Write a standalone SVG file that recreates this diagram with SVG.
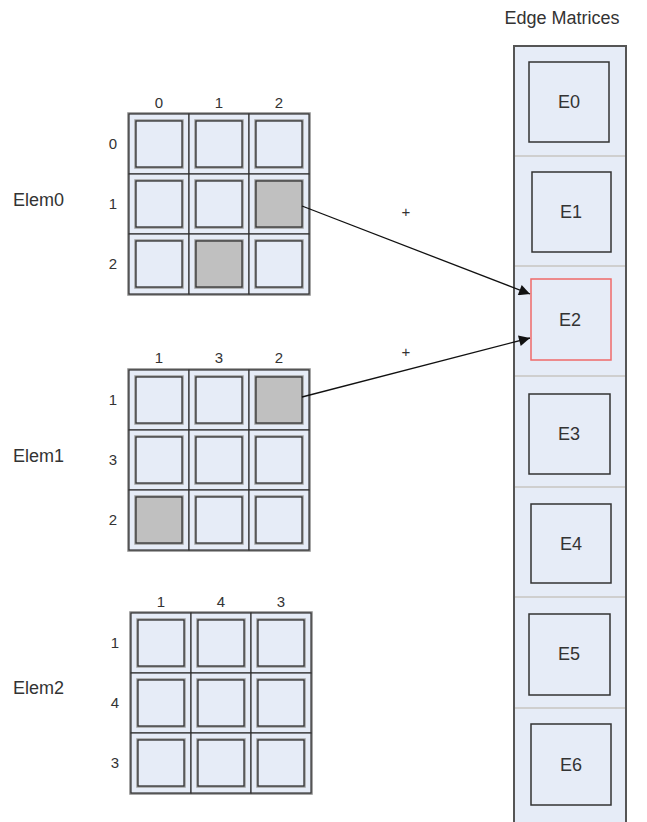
<svg xmlns="http://www.w3.org/2000/svg" width="647" height="822" viewBox="0 0 647 822">
<defs>
<style>
text{font-family:"Liberation Sans",Arial,sans-serif;fill:#333}
.lbl{font-size:18px}
.num{font-size:15px;text-anchor:middle}
.el{font-size:18px;text-anchor:middle}
.cell{fill:#e6ecf7;stroke:#333;stroke-width:1.2}
.frame{fill:none;stroke:#8a8a8a;stroke-width:3.5}
.halo{fill:none;stroke:#a0a0a0;stroke-width:3.5}
.in{fill:#e6ecf7;stroke:#333;stroke-width:1.3}
.g{fill:#c0c0c0}
.col{fill:#e6ecf7;stroke:#555;stroke-width:2}
.sep{stroke:#cfcfcf;stroke-width:2}
.eb{fill:#e6ecf7;stroke:#333;stroke-width:1.5}
.red{stroke:#f06a6a}
.conn{stroke:#111;stroke-width:1.3;fill:none;marker-end:url(#ah)}
</style>
<marker id="ah" viewBox="0 0 10 10" refX="10" refY="5" markerWidth="16" markerHeight="11" markerUnits="userSpaceOnUse" orient="auto">
<path d="M0,0 L10,5 L0,10 z" fill="#111"/>
</marker>
<g id="grid">
<rect class="frame" x="0" y="0" width="180" height="180"/>
<rect class="cell" x="0" y="0" width="60" height="60"/><rect class="cell" x="60" y="0" width="60" height="60"/><rect class="cell" x="120" y="0" width="60" height="60"/>
<rect class="cell" x="0" y="60" width="60" height="60"/><rect class="cell" x="60" y="60" width="60" height="60"/><rect class="cell" x="120" y="60" width="60" height="60"/>
<rect class="cell" x="0" y="120" width="60" height="60"/><rect class="cell" x="60" y="120" width="60" height="60"/><rect class="cell" x="120" y="120" width="60" height="60"/>
<g class="halo">
<rect x="7" y="7" width="46" height="46"/><rect x="67" y="7" width="46" height="46"/><rect x="127" y="7" width="46" height="46"/>
<rect x="7" y="67" width="46" height="46"/><rect x="67" y="67" width="46" height="46"/><rect x="127" y="67" width="46" height="46"/>
<rect x="7" y="127" width="46" height="46"/><rect x="67" y="127" width="46" height="46"/><rect x="127" y="127" width="46" height="46"/>
</g>
</g>
</defs>

<g id="elem0">
<text class="lbl" x="13" y="206">Elem0</text>
<use href="#grid" x="129" y="114"/>
<g class="in">
<rect x="136" y="121" width="46" height="46"/><rect x="196" y="121" width="46" height="46"/><rect x="256" y="121" width="46" height="46"/>
<rect x="136" y="181" width="46" height="46"/><rect x="196" y="181" width="46" height="46"/><rect class="g" x="256" y="181" width="46" height="46"/>
<rect x="136" y="241" width="46" height="46"/><rect class="g" x="196" y="241" width="46" height="46"/><rect x="256" y="241" width="46" height="46"/>
</g>
<text class="num" x="159" y="108">0</text><text class="num" x="219" y="108">1</text><text class="num" x="279" y="108">2</text>
<text class="num" x="113" y="149">0</text><text class="num" x="113" y="209">1</text><text class="num" x="113" y="269">2</text>
</g>

<g id="elem1">
<text class="lbl" x="13" y="462">Elem1</text>
<use href="#grid" x="129" y="370"/>
<g class="in">
<rect x="136" y="377" width="46" height="46"/><rect x="196" y="377" width="46" height="46"/><rect class="g" x="256" y="377" width="46" height="46"/>
<rect x="136" y="437" width="46" height="46"/><rect x="196" y="437" width="46" height="46"/><rect x="256" y="437" width="46" height="46"/>
<rect class="g" x="136" y="497" width="46" height="46"/><rect x="196" y="497" width="46" height="46"/><rect x="256" y="497" width="46" height="46"/>
</g>
<text class="num" x="159" y="363">1</text><text class="num" x="219" y="363">3</text><text class="num" x="279" y="363">2</text>
<text class="num" x="113" y="405">1</text><text class="num" x="113" y="465">3</text><text class="num" x="113" y="525">2</text>
</g>

<g id="elem2">
<text class="lbl" x="13" y="694">Elem2</text>
<use href="#grid" x="131" y="613"/>
<g class="in">
<rect x="138" y="620" width="46" height="46"/><rect x="198" y="620" width="46" height="46"/><rect x="258" y="620" width="46" height="46"/>
<rect x="138" y="680" width="46" height="46"/><rect x="198" y="680" width="46" height="46"/><rect x="258" y="680" width="46" height="46"/>
<rect x="138" y="740" width="46" height="46"/><rect x="198" y="740" width="46" height="46"/><rect x="258" y="740" width="46" height="46"/>
</g>
<text class="num" x="161" y="607">1</text><text class="num" x="221" y="607">4</text><text class="num" x="281" y="607">3</text>
<text class="num" x="115" y="648">1</text><text class="num" x="115" y="708">4</text><text class="num" x="115" y="768">3</text>
</g>

<g id="edge-matrices">
<text class="lbl" x="562" y="24" text-anchor="middle">Edge Matrices</text>
<rect class="col" x="514" y="46" width="112" height="790"/>
<line class="sep" x1="515" y1="156" x2="625" y2="156"/>
<line class="sep" x1="515" y1="266" x2="625" y2="266"/>
<line class="sep" x1="515" y1="376" x2="625" y2="376"/>
<line class="sep" x1="515" y1="487" x2="625" y2="487"/>
<line class="sep" x1="515" y1="597" x2="625" y2="597"/>
<line class="sep" x1="515" y1="708" x2="625" y2="708"/>
<g id="E0"><rect class="eb" x="529" y="62" width="80" height="80"/><text class="el" x="569" y="108">E0</text></g>
<g id="E1"><rect class="eb" x="532" y="172" width="79" height="80"/><text class="el" x="571" y="218">E1</text></g>
<g id="E2"><rect class="eb red" x="531" y="279" width="80" height="81"/><text class="el" x="570" y="326">E2</text></g>
<g id="E3"><rect class="eb" x="529" y="394" width="81" height="80"/><text class="el" x="569" y="440">E3</text></g>
<g id="E4"><rect class="eb" x="531" y="504" width="80" height="79"/><text class="el" x="571" y="550">E4</text></g>
<g id="E5"><rect class="eb" x="529" y="614" width="81" height="81"/><text class="el" x="569" y="660">E5</text></g>
<g id="E6"><rect class="eb" x="531" y="724" width="80" height="81"/><text class="el" x="571" y="771">E6</text></g>
</g>

<g id="connectors">
<line class="conn" x1="302" y1="206" x2="530" y2="294"/>
<line class="conn" x1="302" y1="397" x2="530" y2="338"/>
<text class="num" x="406" y="217" font-size="14">+</text>
<text class="num" x="406" y="357" font-size="14">+</text>
</g>
</svg>
